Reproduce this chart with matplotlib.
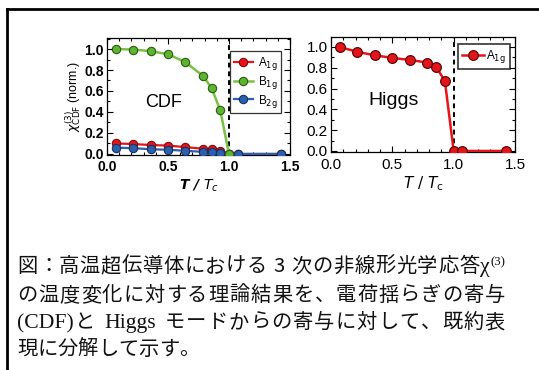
import matplotlib
matplotlib.use("Agg")
import matplotlib.pyplot as plt
from matplotlib.lines import Line2D
from matplotlib.ticker import MultipleLocator

# ---------------- data ----------------
t_over_tc = [1/14, 3/14, 5/14, 7/14, 9/14, 11/14, 12/14, 13/14, 1.0, 15/14, 20/14]
cdf_a1g = [0.10, 0.095, 0.085, 0.08, 0.065, 0.05, 0.045, 0.03, 0.0, 0.0, 0.0]
cdf_b1g = [1.0, 0.995, 0.98, 0.95, 0.875, 0.745, 0.63, 0.415, 0.0]
cdf_b2g = [0.06, 0.055, 0.045, 0.04, 0.03, 0.02, 0.015, 0.01, 0.0, 0.0, 0.0]
higgs_a1g = [1.0, 0.953, 0.92, 0.895, 0.875, 0.85, 0.81, 0.672, 0.0, 0.0, 0.0]
legend_cdf = [r"A$_{\rm 1g}$", r"B$_{\rm 1g}$", r"B$_{\rm 2g}$"]
legend_higgs = [r"A$_{\rm 1g}$"]
ticks = [0.0, 0.5, 1.0, 1.5]
yticks = [0.0, 0.2, 0.4, 0.6, 0.8, 1.0]

W, H = 539, 370
fig = plt.figure(figsize=(W/100, H/100), dpi=100)
fig.patch.set_facecolor("white")

def fx(px):
    return px / W

def fy(py):
    return 1 - py / H

RED = "#e5141b"
GREEN = "#79c143"
GREEN_M = "#5db52f"
BLUE = "#2c5fae"

def style_axes(ax, bold, fs, xpad):
    ax.set_xlim(0, 1.5)
    ax.set_xticks(ticks)
    ax.set_yticks(yticks)
    ax.xaxis.set_minor_locator(MultipleLocator(0.1))
    ax.yaxis.set_minor_locator(MultipleLocator(0.1))
    ax.tick_params(which="both", direction="in", top=True, right=True)
    ax.tick_params(which="major", length=4, width=0.8)
    ax.tick_params(which="minor", length=2.5, width=0.8)
    ax.tick_params(axis="both", labelsize=fs)
    ax.tick_params(axis="x", pad=xpad)
    ax.tick_params(axis="y", pad=2.5)
    ax.set_xticklabels([f"{v:.1f}" for v in ticks], fontfamily="Liberation Sans",
                       fontweight="bold" if bold else "normal", fontsize=fs)
    ax.set_yticklabels([f"{v:.1f}" for v in yticks], fontfamily="Liberation Sans",
                       fontweight="bold" if bold else "normal", fontsize=fs)
    for s in ax.spines.values():
        s.set_linewidth(0.9)
    ax.axvline(1.0, color="black", ls=(0, (2.5, 2)), lw=1.4, zorder=1)

# ---------------- left panel (CDF) ----------------
ax1 = fig.add_axes([fx(107), fy(155), fx(290) - fx(107), fy(38) - fy(155)])
ax1.set_ylim(-0.01, 1.105)
ax1.plot(t_over_tc, cdf_a1g, "-o", color=RED, mfc=RED, mec="#7a0d10", ms=6, lw=1.6,
         mew=0.8, label=legend_cdf[0], zorder=3)
ax1.plot(t_over_tc[:len(cdf_b1g)], cdf_b1g, "-o", color=GREEN, mfc=GREEN_M, mec="#2d5a16",
         ms=6, lw=1.8, mew=0.8, label=legend_cdf[1], zorder=4)
ax1.plot(t_over_tc, cdf_b2g, "-o", color=BLUE, mfc=BLUE, mec="#16305a", ms=6, lw=1.6,
         mew=0.8, label=legend_cdf[2], zorder=3)
style_axes(ax1, True, 10, 3.5)
ax1.set_xlabel(r"$\boldsymbol{T}$ / $\boldsymbol{T_c}$", fontsize=10, labelpad=3)
ax1.xaxis.label.set_fontweight("bold")
ax1.xaxis.label.set_fontstyle("italic")
ax1.set_ylabel(r"$\chi^{(3)}_{\rm CDF}$ (norm.)", fontsize=9, labelpad=1,
               fontfamily="Liberation Sans")
ax1.text(0.31, 0.45, "CDF", fontsize=13, fontfamily="Liberation Sans",
         ha="center", va="center", transform=ax1.transAxes)
leg1 = ax1.legend(loc="upper right", bbox_to_anchor=(0.95, 0.885), fontsize=8.5,
                  frameon=True, fancybox=False, edgecolor="black", handlelength=1.6,
                  borderpad=0.3, labelspacing=0.15, handletextpad=0.4,
                  borderaxespad=0.0)
leg1.get_frame().set_linewidth(0.9)
for txt in leg1.get_texts():
    txt.set_fontfamily("Liberation Sans")

# ---------------- right panel (Higgs) ----------------
ax2 = fig.add_axes([fx(331), fy(152), fx(515) - fx(331), fy(37) - fy(152)])
ax2.set_ylim(-0.01, 1.096)
ax2.plot(t_over_tc, higgs_a1g, "-o", color=RED, mfc=RED, mec="#5a0a0c", ms=7, lw=1.8,
         mew=0.9, label=legend_higgs[0], zorder=3)
style_axes(ax2, False, 11, 4)
ax2.set_xlabel(r"$T$ / $T_{\rm c}$", fontsize=11, labelpad=2)
ax2.text(0.34, 0.45, "Higgs", fontsize=14, fontfamily="Liberation Sans",
         ha="center", va="center", transform=ax2.transAxes)
leg2 = ax2.legend(loc="upper right", bbox_to_anchor=(0.985, 0.96), fontsize=8.5,
                  frameon=True, fancybox=False, edgecolor="black", handlelength=1.8,
                  borderpad=0.35, handletextpad=0.2, borderaxespad=0.2)
leg2.get_frame().set_linewidth(1.2)
for txt in leg2.get_texts():
    txt.set_fontfamily("Liberation Sans")

# ---------------- border ----------------
fig.add_artist(Line2D([fx(7), fx(7)], [0, fy(9)], color="black", lw=2.0))
fig.add_artist(Line2D([fx(7), 1.0], [fy(9), fy(9)], color="black", lw=2.0))

# ---------------- caption (justified) ----------------
CJK = ["Noto Sans CJK JP", "DejaVu Sans"]
SERIF = ["Liberation Serif", "DejaVu Serif"]
FS = 14.6

def cjk(s):
    return [(c, CJK, FS, 0) for c in s]

line1 = cjk("図：高温超伝導体における") + [("3", CJK, FS, 0)] + cjk("次の非線形光学応答") + \
        [("χ", SERIF, FS + 1, 0), ("(3)", SERIF, FS * 0.62, 7)]
line2 = cjk("の温度変化に対する理論結果を、電荷揺らぎの寄与")
line3 = [("(CDF)", SERIF, FS + 1, 0)] + cjk("と") + [("Higgs", SERIF, FS + 1, 0)] + \
        cjk("モードからの寄与に対して、既約表")
line4 = cjk("現に分解して示す。")

renderer = fig.canvas.get_renderer()

def place(tokens, baseline_px, x0, x1, justify, extra_gaps=None):
    objs = []
    widths = []
    for s, fam, fs, dy in tokens:
        t = fig.text(0, 0, s, fontfamily=fam, fontsize=fs, ha="left", va="baseline",
                     color="#111111")
        objs.append(t)
        widths.append(t.get_window_extent(renderer=renderer).width)
    total = sum(widths)
    n = len(tokens)
    gaps = [0.0] * n
    if extra_gaps:
        for i, g in extra_gaps.items():
            gaps[i] += g
    if justify and n > 1:
        extra = (x1 - x0) - total - sum(gaps)
        per = extra / (n - 1)
        for i in range(1, n):
            gaps[i] += per
    x = x0
    for i, (t, w, tok) in enumerate(zip(objs, widths, tokens)):
        x += gaps[i]
        t.set_position((fx(x), fy(baseline_px - tok[3])))
        x += w

place(line1, 272, 17, 505, True, {12: 6, 13: 6})
place(line2, 301, 17, 505, True)
place(line3, 328, 17, 505, True, {2: 8, 3: 8})
place(line4, 355, 17, 505, False)

fig.savefig("out.png", dpi=100, facecolor="white")
